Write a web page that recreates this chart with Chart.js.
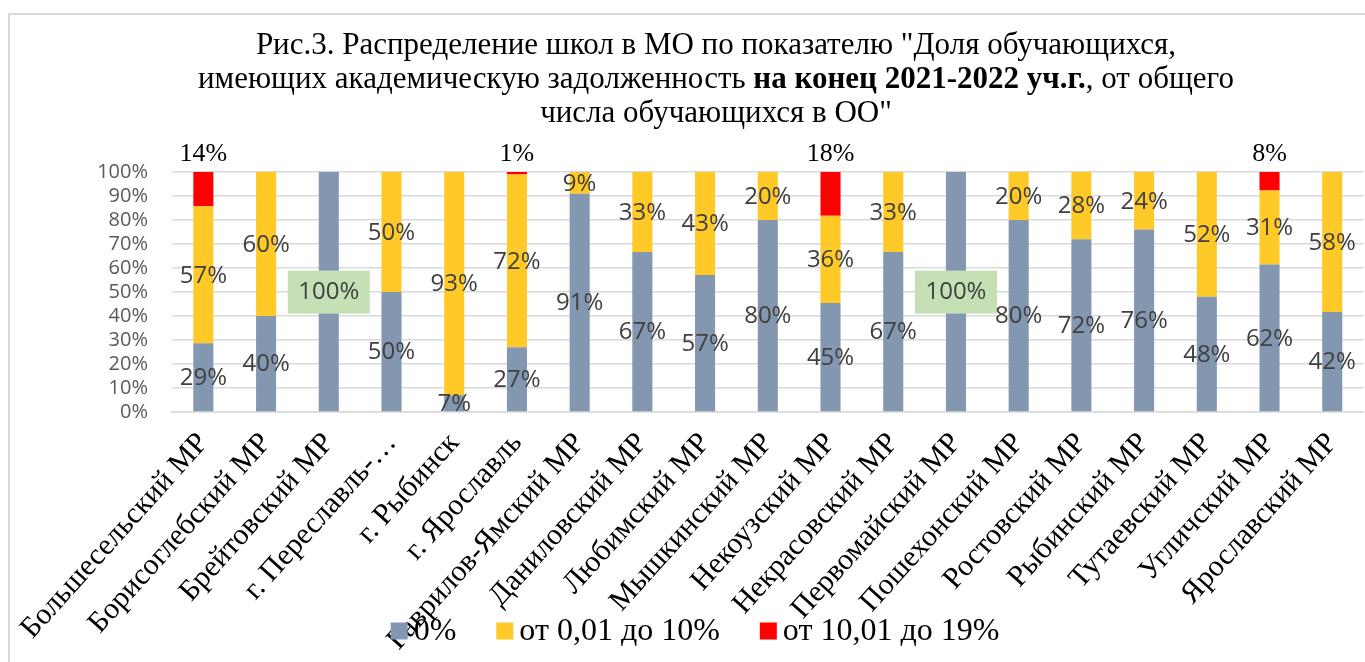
<!DOCTYPE html>
<html>
<head>
<meta charset="utf-8">
<script src="https://cdn.jsdelivr.net/npm/chart.js@4/dist/chart.umd.min.js"></script>
<style>
    html, body { margin: 0; padding: 0; background: #fff; overflow: hidden; }
    #wrap { position: relative; width: 1365px; height: 662px; overflow: hidden; }
    #frame { position: absolute; left: 8px; top: 13px; width: 1500px; height: 800px; border: 2px solid #d9d9d9; box-sizing: border-box; }
    #title { position: absolute; left: 8px; top: 27px; width: 1416px; text-align: center;
             font-family: "Liberation Serif", serif; font-size: 31px; line-height: 34px; color: #000; }
    canvas { position: absolute; left: 0; top: 0; }
</style>
</head>
<body>
<div id="wrap">
    <div id="frame"></div>
    <canvas id="grafico" width="1365" height="662"></canvas>
    <div id="title">Рис.3. Распределение школ в МО по показателю "Доля обучающихся,<br>имеющих академическую задолженность <b>на конец 2021-2022 уч.г.</b>, от общего<br>числа обучающихся в ОО"</div>
</div>
<script>
// данные
const kategorii = ["Большесельский МР", "Борисоглебский МР", "Брейтовский МР", "г. Переславль-…", "г. Рыбинск", "г. Ярославль",
    "Гаврилов-Ямский МР", "Даниловский МР", "Любимский МР", "Мышкинский МР", "Некоузский МР", "Некрасовский МР",
    "Первомайский МР", "Пошехонский МР", "Ростовский МР", "Рыбинский МР", "Тутаевский МР", "Угличский МР", "Ярославский МР"];
const dolya_0 = [28.6, 40, 100, 50, 7, 27, 90.9, 66.7, 57.1, 80, 45.4, 66.7, 100, 80, 72, 76, 48, 61.5, 41.7];
const dolya_10 = [57.1, 60, null, 50, 93, 72, 9.1, 33.3, 42.9, 20, 36.4, 33.3, null, 20, 28, 24, 52, 30.8, 58.3];
const dolya_19 = [14.3, null, null, null, null, 1, null, null, null, null, 18.2, null, null, null, null, null, null, 7.7, null];
const serii = ["0%", "от 0,01 до 10%", "от 10,01 до 19%"];
const tsveta = ["#8497B0", "#FFC928", "#FF0000"];

// подписи на столбцах
const podpisi = {
    id: 'podpisi',
    afterDatasetsDraw(chart){
        let ctx = chart.ctx;
        ctx.save();
        chart.data.datasets.forEach((ds, di) => {
            let meta = chart.getDatasetMeta(di);
            meta.data.forEach((bar, i) => {
                let v = ds.data[i];
                if (v == null) return;
                let txt = Math.round(v) + '%';
                ctx.textAlign = 'center';
                ctx.textBaseline = 'middle';
                if (di == 2) {
                    ctx.font = '26px "Liberation Serif"';
                    ctx.fillStyle = '#000';
                    ctx.fillText(txt, bar.x, bar.y - 18);
                    return;
                }
                let y = (bar.y + bar.base) / 2;
                ctx.font = '24px "Open Sans"';
                if (v >= 100) {
                    ctx.fillStyle = '#C5E0B4';
                    ctx.fillRect(bar.x - 41, y - 21, 82, 43);
                }
                ctx.fillStyle = '#404040';
                ctx.fillText(txt, bar.x, y + 1);
            });
        });
        ctx.restore();
    }
};

// легенда внизу, поверх подписей оси
const legenda = {
    id: 'legenda',
    afterDraw(chart){
        let ctx = chart.ctx;
        ctx.save();
        ctx.font = '32px "Liberation Serif"';
        ctx.textAlign = 'left';
        ctx.textBaseline = 'middle';
        let box = 17, gap = 6, mezhdu = 40;
        let items = chart.data.datasets.map(ds => ({ t: ds.label, c: ds.backgroundColor }));
        let total = 0;
        items.forEach((it, i) => {
            total += box + gap + ctx.measureText(it.t).width + (i ? mezhdu : 0);
        });
        let x = 695 - total / 2;
        let y = 631;
        items.forEach(it => {
            ctx.fillStyle = it.c;
            ctx.fillRect(x, y - box / 2, box, box);
            x += box + gap;
            ctx.fillStyle = '#000';
            ctx.fillText(it.t, x, y + 1);
            x += ctx.measureText(it.t).width + mezhdu;
        });
        ctx.restore();
    }
};

new Chart(document.getElementById("grafico"), {
    type: 'bar',
    data: {
        labels: kategorii,
        datasets: [
            { label: serii[0], data: dolya_0, backgroundColor: tsveta[0] },
            { label: serii[1], data: dolya_10, backgroundColor: tsveta[1] },
            { label: serii[2], data: dolya_19, backgroundColor: tsveta[2] }
        ]
    },
    options: {
        responsive: false,
        animation: false,
        categoryPercentage: 1,
        barPercentage: 0.32,
        layout: { padding: { top: 172, left: 0, right: 0, bottom: 0 } },
        plugins: {
            title: { display: false },
            tooltip: { enabled: false },
            legend: { display: false }
        },
        scales: {
            x: {
                stacked: true,
                grid: { display: false },
                border: { color: '#d9d9d9', width: 1.5 },
                ticks: {
                    autoSkip: false,
                    maxRotation: 48,
                    minRotation: 48,
                    padding: 6,
                    color: '#000',
                    font: { family: '"Liberation Serif"', size: 30 }
                },
                afterFit: function(s){ s.height = 250; }
            },
            y: {
                stacked: true,
                min: 0,
                max: 100,
                grid: { color: '#d9d9d9', lineWidth: 1.5, drawTicks: false },
                border: { display: false },
                ticks: {
                    stepSize: 10,
                    autoSkip: false,
                    padding: 24,
                    color: '#595959',
                    font: { family: '"Open Sans"', size: 20 },
                    callback: v => v + '%'
                },
                afterFit: function(s){ s.width = 172; }
            }
        }
    },
    plugins: [podpisi, legenda]
});
</script>
</body>
</html>
